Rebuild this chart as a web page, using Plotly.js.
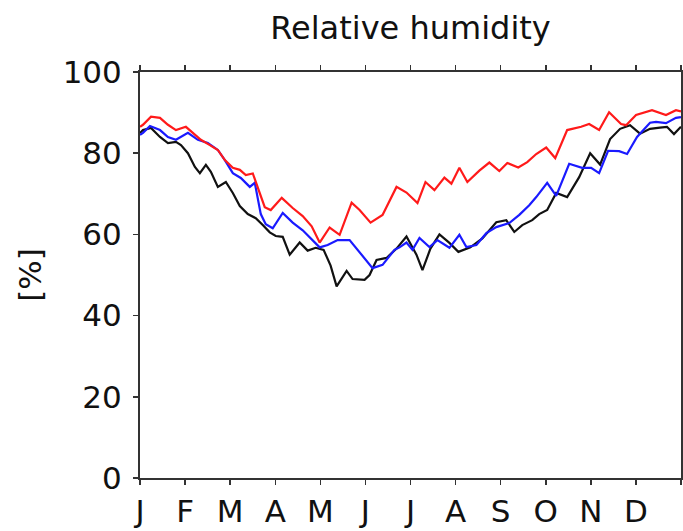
<!DOCTYPE html>
<html>
<head>
<meta charset="utf-8">
<script src="https://cdn.plot.ly/plotly-3.0.1.min.js"></script>
<style>html,body{margin:0;padding:0;background:#fff;}#chart{width:683px;height:531px;}</style>
</head>
<body>
<div id="chart"></div>
<script>
// x = time in months since 1 January (0..12)
const monthLabels = ['J','F','M','A','M','J','J','A','S','O','N','D',''];
const monthTicks = [0,1,2,3,4,5,6,7,8,9,10,11,12];

const blackX = [0,0.066,0.244,0.443,0.620,0.797,0.908,1.063,1.218,1.328,1.461,1.572,1.727,1.904,2.059,2.214,2.391,2.568,2.723,2.878,3.011,3.166,3.321,3.542,3.719,3.896,4.073,4.228,4.361,4.583,4.715,4.981,5.092,5.247,5.468,5.690,5.911,6.132,6.265,6.442,6.642,6.863,7.062,7.328,7.594,7.903,8.125,8.302,8.479,8.700,8.855,9.032,9.232,9.475,9.741,9.985,10.206,10.427,10.649,10.870,11.091,11.313,11.534,11.689,11.844,11.999];
const blackY = [85,85.7,86.2,84,82.5,82.8,82,80,76.6,75.1,77.1,75.4,71.7,72.9,70.2,67,65,64,62.3,60.5,59.6,59.4,55,58,56,56.7,56.2,52.3,47.2,51,49,48.8,50,53.7,54.2,56.5,59.5,55,51.2,56.5,60,57.9,55.7,56.8,59,63,63.5,60.6,62.3,63.5,65,66,70.2,69.2,74.1,80,77.2,83.5,86,86.9,84.8,86,86.3,86.5,84.7,86.5];

const blueX = [0,0.066,0.221,0.443,0.620,0.797,1.063,1.284,1.505,1.727,1.882,2.059,2.236,2.435,2.546,2.679,2.789,2.944,3.166,3.387,3.609,3.830,3.985,4.162,4.383,4.649,4.826,5.048,5.158,5.380,5.645,5.756,5.911,6.044,6.199,6.420,6.597,6.863,7.084,7.239,7.461,7.682,7.903,8.191,8.413,8.634,8.789,9.032,9.232,9.520,9.807,10.007,10.184,10.383,10.627,10.804,11.025,11.313,11.446,11.667,11.888,11.999];
const blueY = [84.5,85,86.7,85.7,84,83.3,85,83.3,82.5,80.8,78.3,75.1,73.9,71.7,72.7,65,62.5,61.5,65.3,62.9,61,58.4,56.8,57.4,58.6,58.6,56.2,53.2,51.7,52.5,56.2,56.8,58,56.2,59.1,56.9,58.6,56.7,59.9,56.9,57.4,60.3,61.8,62.8,64.8,67.2,69.2,72.7,69.5,77.4,76.4,76.4,75.1,80.6,80.5,79.8,84,87.5,87.7,87.4,88.7,88.9];

const redX = [0,0.066,0.244,0.443,0.620,0.797,1.018,1.173,1.350,1.550,1.727,1.882,2.059,2.214,2.347,2.502,2.612,2.767,2.900,3.144,3.387,3.609,3.808,3.985,4.206,4.428,4.694,4.871,5.114,5.380,5.690,5.911,6.155,6.332,6.531,6.752,6.907,7.084,7.261,7.527,7.749,7.970,8.147,8.390,8.590,8.789,9.010,9.210,9.475,9.785,9.962,10.184,10.405,10.671,10.782,11.003,11.357,11.667,11.888,11.999];
const redY = [86.5,87,89,88.7,87,85.7,86.5,85,83.3,82,80.8,78.3,76.4,75.9,74.6,75,71.7,66.7,66,69,66.5,64.5,62,58,61.7,59.9,67.8,66,62.9,64.8,71.7,70.3,67.7,72.9,70.9,74,72.5,76.4,72.9,75.7,77.7,75.6,77.6,76.5,77.8,79.8,81.4,78.8,85.7,86.5,87.2,85.7,90.1,87.2,86.9,89.4,90.6,89.4,90.6,90.3];

const yTicks = [0,20,40,60,80,100];

const font = 'DejaVu Sans, Arial, sans-serif';
const traces = [
  {x: blackX, y: blackY, mode: 'lines', line: {color: '#111111', width: 2.2}},
  {x: blueX, y: blueY, mode: 'lines', line: {color: '#1a1aff', width: 2.2}},
  {x: redX, y: redY, mode: 'lines', line: {color: '#ff1a1a', width: 2.2}}
];
const layout = {
  width: 683, height: 531,
  margin: {l: 140, r: 2, t: 72, b: 53},
  paper_bgcolor: '#fff', plot_bgcolor: '#fff',
  showlegend: false,
  font: {family: font, color: '#111', size: 31},
  title: {text: 'Relative humidity', font: {family: font, size: 32, color: '#111'}, x: 0.5, xref: 'paper', y: 0.968, yref: 'container'},
  xaxis: {
    range: [0, 12], tickmode: 'array', tickvals: monthTicks, ticktext: monthLabels,
    ticks: 'outside', ticklen: 5, tickwidth: 1.5, tickcolor: '#333',
    showline: true, linecolor: '#333', linewidth: 2, mirror: 'ticks',
    showgrid: false, zeroline: false, tickfont: {size: 31}, fixedrange: true
  },
  yaxis: {
    range: [0, 100], tickmode: 'array', tickvals: yTicks,
    ticks: 'outside', ticklen: 5, tickwidth: 1.5, tickcolor: '#333',
    showline: true, linecolor: '#333', linewidth: 2, mirror: true,
    showgrid: false, zeroline: false, tickfont: {size: 31}, ticklabelstandoff: 5,
    title: {text: '[%]', font: {size: 31}, standoff: 12}, fixedrange: true
  }
};
Plotly.newPlot('chart', traces, layout, {staticPlot: true, displayModeBar: false});
</script>
</body>
</html>
